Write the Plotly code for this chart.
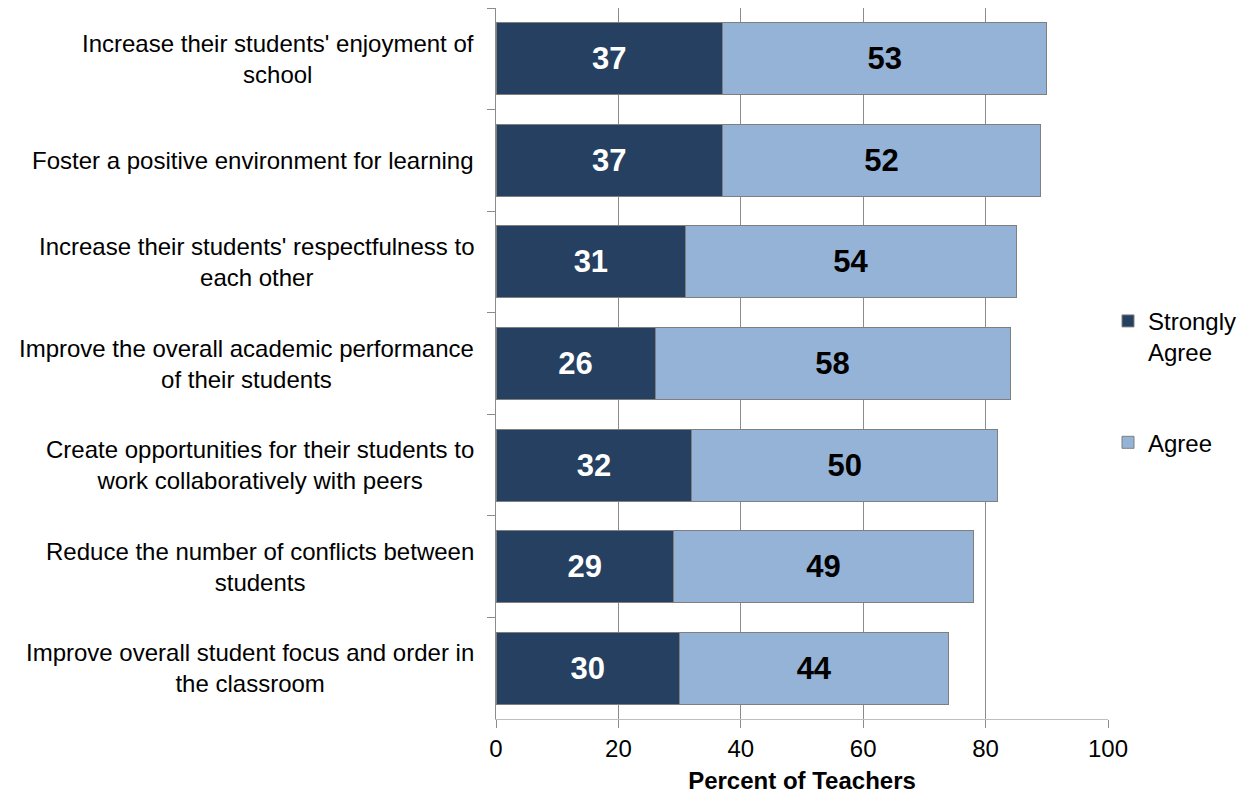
import plotly.graph_objects as go

# Survey statements (top to bottom) and percent of teachers agreeing
statements = [
    "Increase their students' enjoyment of<br>school",
    "Foster a positive environment for learning",
    "Increase their students' respectfulness to<br>each other",
    "Improve the overall academic performance<br>of their students",
    "Create opportunities for their students to<br>work collaboratively with peers",
    "Reduce the number of conflicts between<br>students",
    "Improve overall student focus and order in<br>the classroom",
]
strongly_agree = [37, 37, 31, 26, 32, 29, 30]
agree = [53, 52, 54, 58, 50, 49, 44]
x_ticks = [0, 20, 40, 60, 80, 100]

FONT = "Liberation Sans, Arial, sans-serif"
SIZE = 24

fig = go.Figure()
fig.add_trace(go.Bar(
    y=statements, x=strongly_agree, orientation="h",
    name="Strongly<br>Agree", legendgroup="strong",
    marker=dict(color="#254061", line=dict(color="#7f7f7f", width=1)),
    text=strongly_agree, textposition="inside", insidetextanchor="middle",
    textfont=dict(color="white", size=31, family=FONT, weight="bold"),
))
fig.add_trace(go.Bar(
    y=statements, x=agree, orientation="h",
    name="Agree", legendgroup="agree",
    marker=dict(color="#95b3d7", line=dict(color="#7f7f7f", width=1)),
    text=agree, textposition="inside", insidetextanchor="middle",
    textfont=dict(color="black", size=31, family=FONT, weight="bold"),
))

# Category labels, centre-aligned and right-anchored beside the axis
for s in statements:
    fig.add_annotation(
        x=0, xref="paper", y=s, yref="y",
        text=s, showarrow=False, xanchor="right", yanchor="middle",
        align="center", xshift=-20,
        font=dict(size=SIZE, family=FONT, color="black"),
    )

fig.update_layout(
    barmode="stack",
    bargap=0.29,
    width=1244, height=794,
    margin=dict(l=496, r=136, t=8, b=75, autoexpand=False),
    paper_bgcolor="white", plot_bgcolor="white",
    font=dict(family=FONT, size=SIZE, color="black"),
    legend=dict(
        x=1.0, y=0.591, xanchor="left", yanchor="top",
        font=dict(size=SIZE), tracegroupgap=56, traceorder="grouped",
        valign="top", itemwidth=30, bgcolor="rgba(0,0,0,0)",
    ),
    xaxis=dict(
        range=[0, 100], tickvals=x_ticks,
        showgrid=True, gridcolor="#8c8c8c", gridwidth=1,
        showline=True, linecolor="#bfbfbf", linewidth=1,
        ticks="outside", ticklen=8, tickcolor="#8c8c8c",
        tickfont=dict(size=SIZE), zeroline=False,
        title=dict(text="<b>Percent of Teachers</b>", font=dict(size=SIZE), standoff=23),
    ),
    yaxis=dict(
        autorange="reversed", type="category",
        showline=True, linecolor="#8c8c8c", linewidth=1,
        ticks="outside", ticklen=8, tickcolor="#8c8c8c",
        tickson="boundaries", showgrid=False, showticklabels=False,
    ),
)

fig.write_html("out.html")
